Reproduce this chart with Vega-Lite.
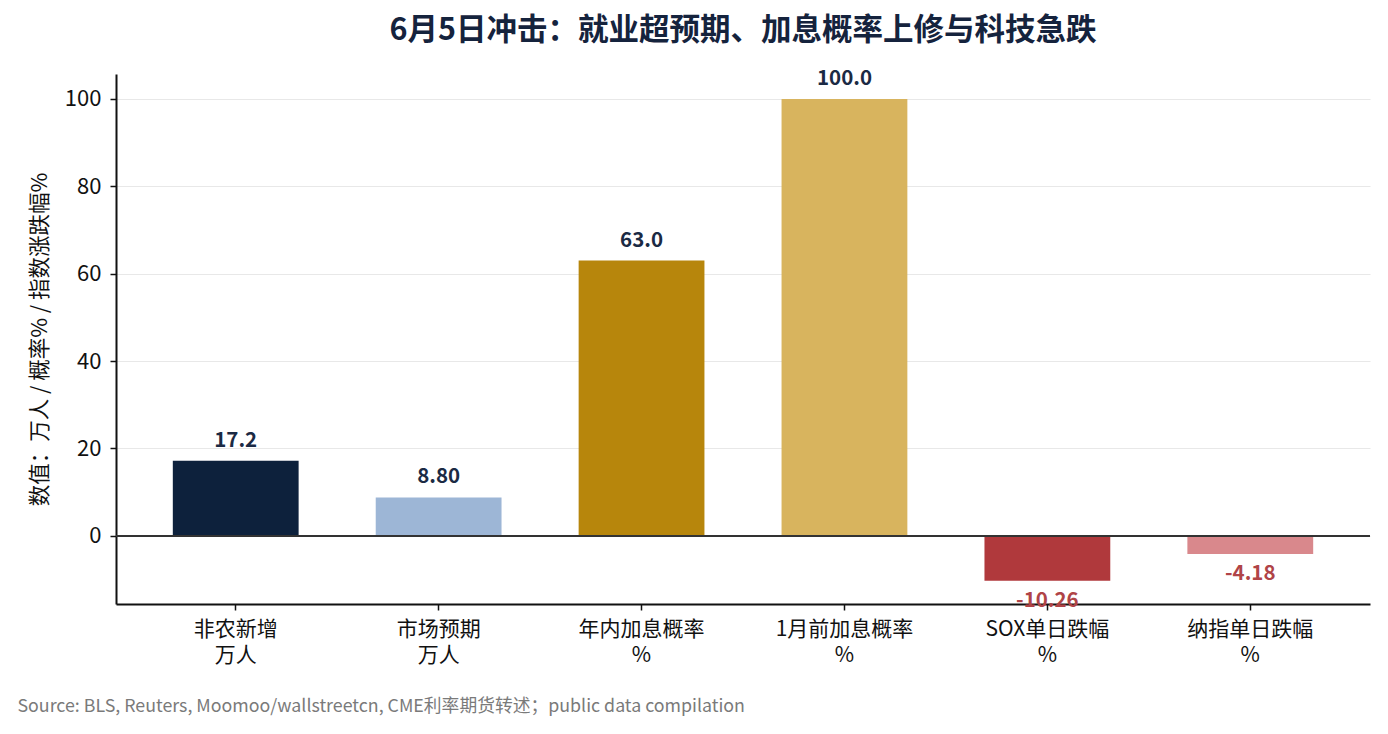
{
  "$schema": "https://vega.github.io/schema/vega-lite/v6.json",
  "autosize": {"type": "none"},
  "width": 1254,
  "height": 530,
  "padding": {"left": 116, "top": 74, "right": 18, "bottom": 130},
  "background": "white",
  "config": {
    "font": "Noto Sans CJK SC",
    "view": {"stroke": null}
  },
  "title": {
    "text": "6月5日冲击：就业超预期、加息概率上修与科技急跌",
    "fontSize": 30.5,
    "fontWeight": "bold",
    "color": "#15233d",
    "anchor": "middle",
    "offset": 22,
    "font": "Noto Sans CJK SC"
  },
  "data": {
    "values": [
      {"cat": "非农新增|万人", "value": 17.2, "label": "17.2", "color": "#0d213c"},
      {"cat": "市场预期|万人", "value": 8.8, "label": "8.80", "color": "#9db6d6"},
      {"cat": "年内加息概率|%", "value": 63.0, "label": "63.0", "color": "#b7860c"},
      {"cat": "1月前加息概率|%", "value": 100.0, "label": "100.0", "color": "#d8b45e"},
      {"cat": "SOX单日跌幅|%", "value": -10.26, "label": "-10.26", "color": "#b0393c"},
      {"cat": "纳指单日跌幅|%", "value": -4.18, "label": "-4.18", "color": "#d9888c"}
    ]
  },
  "encoding": {
    "x": {
      "field": "cat",
      "type": "nominal",
      "sort": null,
      "scale": {"paddingInner": 0.38, "paddingOuter": 0.28},
      "axis": {
        "title": "Source: BLS, Reuters, Moomoo/wallstreetcn, CME利率期货转述；public data compilation",
        "titleAnchor": "start",
        "titleAlign": "left",
        "titleX": -99,
        "titleY": 102,
        "titleFontSize": 17.8,
        "titleFontWeight": "normal",
        "titleColor": "#7a7a7a",
        "titleBaseline": "middle",
        "labelExpr": "split(datum.label, '|')",
        "labelAngle": 0,
        "labelFontSize": 21,
        "labelColor": "#111111",
        "labelLineHeight": 26,
        "labelPadding": 8,
        "labelBaseline": "top",
        "domainColor": "#111111",
        "domainWidth": 2,
        "tickColor": "#111111",
        "tickWidth": 1.5,
        "tickSize": 6,
        "grid": false
      }
    },
    "y": {
      "field": "value",
      "type": "quantitative",
      "scale": {"domain": [-15.6, 105.7], "nice": false, "zero": false},
      "axis": {
        "title": "数值：万人 / 概率% / 指数涨跌幅%",
        "titleFontSize": 21.5,
        "titleFontWeight": "normal",
        "titleColor": "#111111",
        "titlePadding": 13,
        "values": [0, 20, 40, 60, 80, 100],
        "labelFontSize": 22,
        "labelColor": "#111111",
        "labelPadding": 9,
        "domainColor": "#111111",
        "domainWidth": 2,
        "tickColor": "#111111",
        "tickWidth": 1.5,
        "tickSize": 6,
        "gridColor": "#e8e8e8",
        "gridWidth": 1.2
      }
    }
  },
  "layer": [
    {
      "mark": {"type": "bar"},
      "encoding": {
        "color": {"field": "color", "type": "nominal", "scale": null}
      }
    },
    {
      "mark": {"type": "rule", "color": "#333333", "strokeWidth": 1.6},
      "encoding": {"y": {"datum": 0}, "x": {"value": 0}, "x2": {"value": 1254}}
    },
    {
      "transform": [{"filter": "datum.value >= 0"}],
      "mark": {"type": "text", "baseline": "bottom", "dy": -10, "fontSize": 20.5, "fontWeight": "bold", "color": "#1b2a44"},
      "encoding": {"text": {"field": "label"}}
    },
    {
      "transform": [{"filter": "datum.value < 0"}],
      "mark": {"type": "text", "baseline": "top", "dy": 10, "fontSize": 20.5, "fontWeight": "bold", "color": "#b04447"},
      "encoding": {"text": {"field": "label"}}
    }
  ]
}
